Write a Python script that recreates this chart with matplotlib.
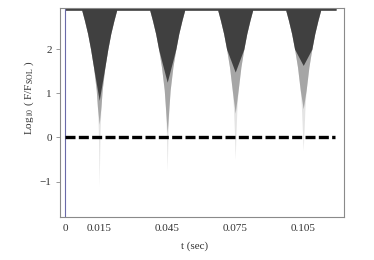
import numpy as np
import matplotlib
matplotlib.use("Agg")
import matplotlib.pyplot as plt

# dip centres (s) and the floor reached by each shade of the band
centers = [0.015, 0.045, 0.075, 0.105]
dark_floor = [0.84, 1.25, 1.48, 1.63]
mid_floor = [0.30, 0.10, 0.55, 0.65]
light_floor = [-1.10, -0.75, -0.50, -0.30]

# cusp profile: offset from centre (s) vs log10(F/F_SOL)
profile_offset = [0.0077, 0.0065, 0.0051, 0.0038, 0.0025, 0.0013, 0.0008, 0.0004, 0.0002, 0.0001]
profile_logF = [2.88, 2.65, 2.35, 2.00, 1.59, 1.07, 0.70, 0.20, -0.40, -1.20]

t_end = 0.1195
y_top = 2.93

xticks = [0, 0.015, 0.045, 0.075, 0.105]
xticklabels = ["0", "0.015", "0.045", "0.075", "0.105"]
yticks = [-1, 0, 1, 2]

plt.rcParams["font.family"] = ["Liberation Serif", "DejaVu Serif"]
plt.rcParams["mathtext.fontset"] = "stix"

fig = plt.figure(figsize=(3.74, 2.6), dpi=100)
ax = fig.add_axes([0.1604, 0.1654, 0.7594, 0.8038])


def band(floors):
    ts = [0.0]
    ys = [profile_logF[0]]
    off = np.array(profile_offset)
    val = np.array(profile_logF)
    for c, f in zip(centers, floors):
        # leave room above the floor so each shade ends in a sharp point
        keep = val > f + 0.35
        for o, v in zip(off[keep], val[keep]):
            ts.append(c - o)
            ys.append(v)
        ts.append(c)
        ys.append(f)
        for o, v in zip(off[keep][::-1], val[keep][::-1]):
            ts.append(c + o)
            ys.append(v)
    ts.append(t_end)
    ys.append(profile_logF[0])
    return ts, ys


for floors, col in [(light_floor, "#e4e4e4"), (mid_floor, "#a6a6a6"), (dark_floor, "#404040")]:
    ts, ys = band(floors)
    ax.fill_between(ts, ys, y_top, color=col, lw=0, zorder=1)

ax.plot([0, 0.119], [0, 0], color="black", lw=2.4, dashes=(3, 1), zorder=3)
ax.axvline(0, color="#6a6aa8", lw=0.8, zorder=2)

ax.set_xlim(-0.0023, 0.123)
ax.set_ylim(-1.8, y_top)
ax.set_xticks(xticks)
ax.set_xticklabels(xticklabels)
ax.set_yticks(yticks)
ax.set_yticklabels(["\u22121", "0", "1", "2"])

for s in ax.spines.values():
    s.set_color("#8a8a8a")
    s.set_linewidth(0.8)

ax.tick_params(axis="y", direction="out", length=3, width=0.6, color="#8a8a8a",
               labelsize=8, labelcolor="#333333", pad=3)
ax.tick_params(axis="x", length=0, labelsize=8, labelcolor="#333333", pad=5)

ax.set_xlabel("t (sec)", fontsize=8, color="#333333")
ax.xaxis.set_label_coords(0.475, -0.115)
ax.set_ylabel(r"Log$_{10}$ ( F/F$_{\mathrm{SOL}}$ )", fontsize=8, color="#333333")
ax.yaxis.set_label_coords(-0.085, 0.57)

fig.savefig("out.png", dpi=100)
